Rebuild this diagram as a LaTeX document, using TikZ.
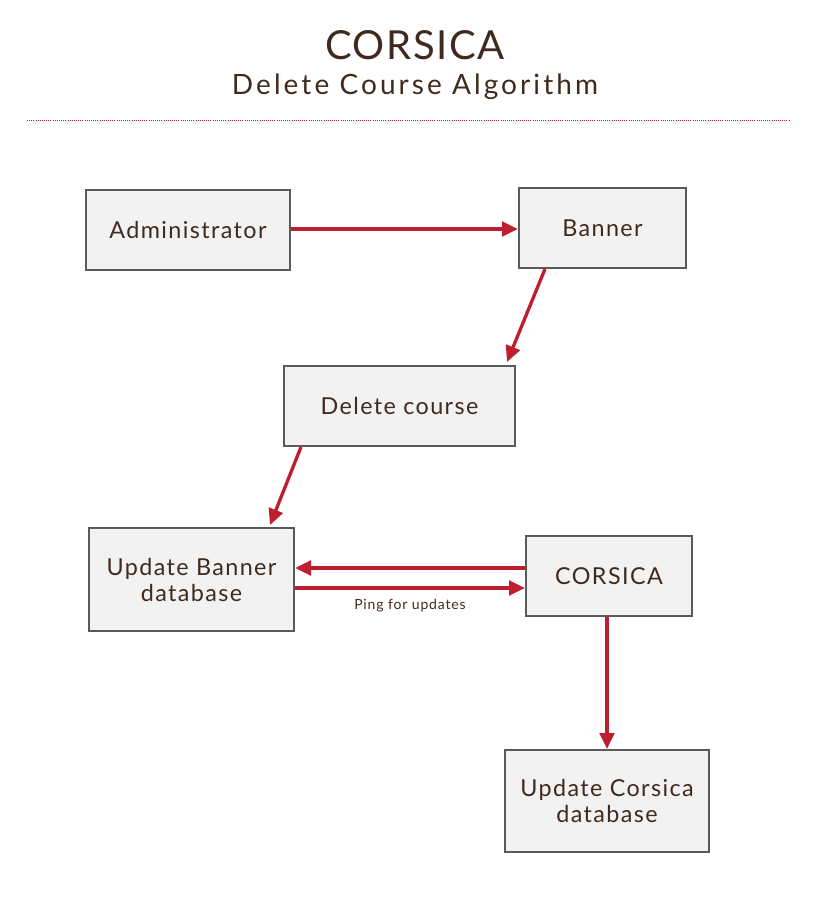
\documentclass[tikz,border=0pt]{standalone}
\usepackage{fontspec}
\setmainfont{Lato}
\newfontfamily\subfont[LetterSpace=11]{Lato}
\newfontfamily\titlefont[LetterSpace=4]{Lato}
\newfontfamily\boxfont[LetterSpace=6]{Lato}
\usetikzlibrary{arrows.meta}
\definecolor{boxfill}{HTML}{F2F2F2}
\definecolor{boxline}{HTML}{5A5A5A}
\definecolor{txt}{HTML}{3F2A1E}
\definecolor{arr}{HTML}{BE1E2D}
\tikzset{
  box/.style={draw=boxline, line width=1.5pt, fill=boxfill, inner sep=0pt, align=center,
    text=txt, font=\boxfont\fontsize{17.5}{19.5}\selectfont},
  link/.style={draw=arr, line width=2.5pt, -{Triangle[length=12pt,width=11pt]}},
}
\begin{document}
\begin{tikzpicture}[x=0.75pt,y=-0.75pt]
\useasboundingbox (0,0) rectangle (818,910);
\node[text=txt, font=\titlefont\fontsize{30}{34}\selectfont] (title) at (415,45) {CORSICA};
\node[text=txt, font=\subfont\fontsize{21}{24}\selectfont] (sub) at (415,87) {Delete Course Algorithm};
\coordinate (l1) at (27,120);
\coordinate (l2) at (790,120);
\draw[arr, densely dotted, line width=0.6pt] (l1) -- (l2);

\node[box, minimum width=204*0.75pt, minimum height=80*0.75pt] (admin) at (188,230) {Administrator};
\node[box, minimum width=167*0.75pt, minimum height=80*0.75pt] (banner) at (602.5,228) {Banner};
\node[box, minimum width=231*0.75pt, minimum height=80*0.75pt] (del) at (399.5,406) {Delete course};
\node[box, minimum width=205*0.75pt, minimum height=103*0.75pt] (ubd) at (191.5,579.5) {Update Banner\\database};
\node[box, minimum width=166*0.75pt, minimum height=80*0.75pt] (cors) at (609,576) {CORSICA};
\node[box, minimum width=204*0.75pt, minimum height=102*0.75pt] (ucd) at (607,801) {Update Corsica\\database};

\draw[link] (admin.east |- 0,229) -- (banner.west |- 0,229);
\draw[link] (banner.south -| 545,0) -- (507,362);
\draw[link] (del.south -| 301,0) -- (270,525);
\draw[link] (cors.west |- 0,568) -- (ubd.east |- 0,568);
\draw[link] (ubd.east |- 0,588) -- (cors.west |- 0,588) node[midway, below=4pt, text=txt, font=\boxfont\fontsize{10.5}{12}\selectfont] {Ping for updates};
\draw[link] (cors.south -| 607,0) -- (ucd.north -| 607,0);
\end{tikzpicture}
\end{document}
